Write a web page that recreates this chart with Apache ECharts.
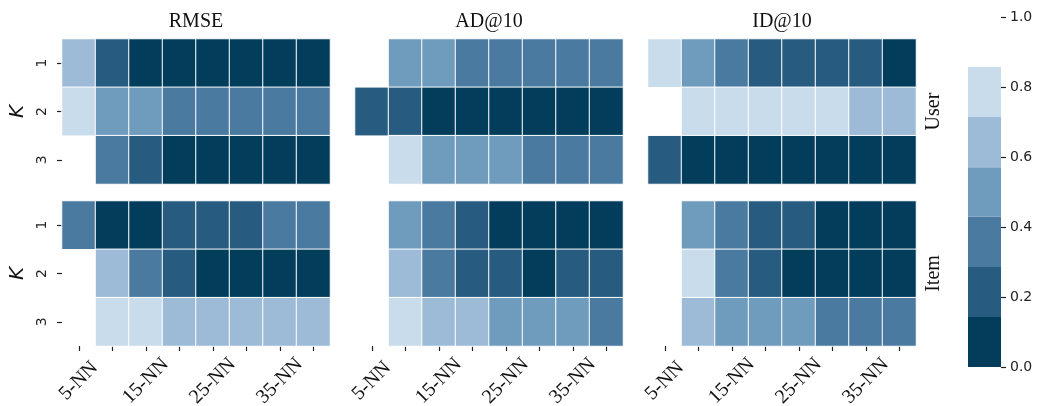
<!DOCTYPE html>
<html>
<head>
<meta charset="utf-8">
<script src="https://cdn.jsdelivr.net/npm/echarts@6/dist/echarts.min.js"></script>
<style>
  html, body { margin: 0; padding: 0; background: #fff; }
  #chart { width: 1039px; height: 406px; }
</style>
</head>
<body>
<div id="chart"></div>
<script>
// neighbourhood sizes (columns) and K values (rows)
const nnLabels = ["5-NN", "10-NN", "15-NN", "20-NN", "25-NN", "30-NN", "35-NN", "40-NN"];
const kLabels = ["1", "2", "3"];

// normalised scores, rows = K 1..3, null = no value
const rmseUser = [
  [0.63, 0.22, 0.08, 0.05, 0.04, 0.03, 0.03, 0.02],
  [0.80, 0.48, 0.45, 0.38, 0.36, 0.35, 0.34, 0.33],
  [null, 0.37, 0.24, 0.10, 0.07, 0.05, 0.04, 0.04]
];
const adUser = [
  [null, 0.50, 0.46, 0.40, 0.37, 0.36, 0.35, 0.34],
  [0.25, 0.19, 0.10, 0.07, 0.05, 0.04, 0.03, 0.03],
  [null, 0.76, 0.52, 0.49, 0.45, 0.41, 0.39, 0.37]
];
const idUser = [
  [0.78, 0.50, 0.38, 0.27, 0.24, 0.22, 0.18, 0.12],
  [null, 0.84, 0.80, 0.79, 0.77, 0.74, 0.68, 0.64],
  [0.24, 0.12, 0.08, 0.06, 0.05, 0.04, 0.03, 0.02]
];
const rmseItem = [
  [0.35, 0.10, 0.13, 0.22, 0.24, 0.27, 0.33, 0.36],
  [null, 0.62, 0.38, 0.21, 0.12, 0.08, 0.06, 0.05],
  [null, 0.78, 0.73, 0.68, 0.65, 0.63, 0.62, 0.60]
];
const adItem = [
  [null, 0.50, 0.33, 0.22, 0.12, 0.08, 0.06, 0.04],
  [null, 0.64, 0.36, 0.24, 0.18, 0.12, 0.20, 0.22],
  [null, 0.80, 0.66, 0.62, 0.52, 0.48, 0.46, 0.40]
];
const idItem = [
  [null, 0.50, 0.37, 0.26, 0.20, 0.12, 0.08, 0.05],
  [null, 0.78, 0.36, 0.20, 0.10, 0.06, 0.04, 0.03],
  [null, 0.62, 0.52, 0.48, 0.44, 0.38, 0.34, 0.32]
];

// colour scale: band edges and colours (dark = low)
const bandEdges = [0, 0.143, 0.286, 0.429, 0.571, 0.714, 0.857];
const bandColors = ["#023e5c", "#275b7f", "#4a7aa0", "#6f9bbd", "#9dbbd7", "#c9dceb"];

const metricTitles = ["RMSE", "AD@10", "ID@10"];
const rowNames = ["User", "Item"];
const panelData = [[rmseUser, adUser, idUser], [rmseItem, adItem, idItem]];

const colLeft = [62, 355, 648];
const rowTop = [39, 201];
const panelW = 268, panelH = 145;

const serif = "Liberation Serif";
const sans = "DejaVu Sans";

const grids = [], xAxes = [], yAxes = [], series = [], titles = [];

let idx = 0;
for (let r = 0; r < 2; r++) {
  for (let c = 0; c < 3; c++) {
    grids.push({ left: colLeft[c], top: rowTop[r], width: panelW, height: panelH,
      containLabel: false, outerBoundsMode: "none" });
    const bottom = r === 1;
    xAxes.push({
      type: "category", gridIndex: idx, data: nnLabels,
      axisLine: { show: false },
      axisTick: { show: bottom, alignWithLabel: true, interval: 0, length: 5,
        lineStyle: { color: "#222", width: 1.2 } },
      axisLabel: { show: bottom, interval: 1, rotate: 45, align: "center",
        verticalAlign: "middle", margin: 35,
        fontFamily: serif, fontSize: 20, color: "#111" },
      splitLine: { show: false }
    });
    const y = {
      type: "category", gridIndex: idx, data: kLabels, inverse: true,
      axisLine: { show: false },
      splitLine: { show: false }
    };
    if (c === 0) {
      Object.assign(y, {
        axisTick: { show: true, alignWithLabel: true, length: 5, lineStyle: { color: "#222", width: 1.2 } },
        axisLabel: { show: true, rotate: 90, align: "center", verticalAlign: "middle", margin: 20,
          fontFamily: sans, fontSize: 14, color: "#222" },
        name: "K", nameLocation: "middle", nameGap: 34, nameRotate: 90,
        nameTextStyle: { fontFamily: sans, fontStyle: "italic", fontSize: 20, color: "#111" }
      });
    } else {
      Object.assign(y, { axisTick: { show: false }, axisLabel: { show: false } });
    }
    if (c === 2) {
      Object.assign(y, {
        position: "right",
        name: rowNames[r], nameLocation: "middle", nameGap: 8, nameRotate: 90,
        nameTextStyle: { fontFamily: serif, fontSize: 20, color: "#111" }
      });
    }
    yAxes.push(y);

    const cells = [];
    panelData[r][c].forEach((row, yi) => {
      row.forEach((v, xi) => cells.push([xi, yi, v == null ? "-" : v]));
    });
    series.push({
      type: "heatmap", xAxisIndex: idx, yAxisIndex: idx, data: cells,
      itemStyle: { borderColor: "#fff", borderWidth: 1 },
      emphasis: { disabled: true }, silent: true
    });
    if (r === 0) {
      titles.push({
        text: metricTitles[c], left: colLeft[c] + panelW / 2, top: 12, textAlign: "center",
        padding: 0,
        textStyle: { fontFamily: serif, fontSize: 20, fontWeight: "normal", color: "#111" }
      });
    }
    idx++;
  }
}

// colour bar
grids.push({ left: 968, top: 17, width: 33, height: 350, containLabel: false, outerBoundsMode: "none" });
xAxes.push({ type: "category", gridIndex: idx, data: ["cb"], show: false });
yAxes.push({
  type: "value", gridIndex: idx, min: 0, max: 1, interval: 0.2, position: "right",
  axisLine: { show: false }, splitLine: { show: false },
  axisTick: { show: true, length: 5, lineStyle: { color: "#222", width: 1.2 } },
  axisLabel: { margin: 9, fontFamily: sans, fontSize: 14, color: "#222",
    formatter: v => v.toFixed(1) }
});
bandColors.forEach((col, i) => {
  series.push({
    type: "bar", xAxisIndex: idx, yAxisIndex: idx, stack: "cbar", barWidth: "100%",
    data: [bandEdges[i + 1] - bandEdges[i]], itemStyle: { color: col }, silent: true
  });
});

const chart = echarts.init(document.getElementById("chart"), null, { renderer: "canvas" });
chart.setOption({
  backgroundColor: "#fff",
  animation: false,
  title: titles,
  grid: grids,
  xAxis: xAxes,
  yAxis: yAxes,
  visualMap: {
    type: "piecewise", show: false, seriesIndex: [0, 1, 2, 3, 4, 5],
    pieces: bandColors.map((col, i) => ({ gte: bandEdges[i], lt: bandEdges[i + 1] + (i === 5 ? 0.2 : 0), color: col }))
  },
  series: series
});
</script>
</body>
</html>
